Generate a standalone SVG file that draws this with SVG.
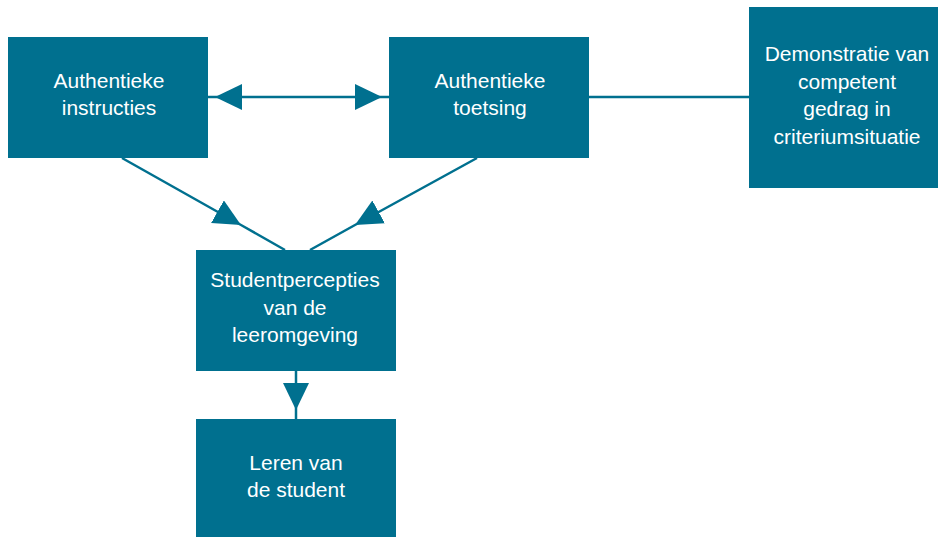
<svg xmlns="http://www.w3.org/2000/svg" width="938" height="537" viewBox="0 0 938 537">
  <defs>
    <style>
      .box { fill: #00708F; }
      .lbl { fill: #FFFFFF; font-family: "Liberation Sans", Arial, sans-serif; font-size: 21px; text-anchor: middle; }
      .con { stroke: #00708F; stroke-width: 2.5; fill: none; }
    </style>
    <marker id="endArrow" markerUnits="userSpaceOnUse" markerWidth="40" markerHeight="30" viewBox="0 0 40 30" refX="34" refY="13" orient="auto-start-reverse">
      <path d="M0,0 L27,13 L0,26 Z" fill="#00708F"/>
    </marker>
    <marker id="midArrow" markerUnits="userSpaceOnUse" markerWidth="30" markerHeight="30" viewBox="0 0 30 30" refX="27" refY="13" orient="auto">
      <path d="M0,0 L27,13 L0,26 Z" fill="#00708F"/>
    </marker>
  </defs>
  <rect width="938" height="537" fill="#FFFFFF"/>

  <g id="connectors">
    <line class="con" x1="208" y1="97" x2="389" y2="97" marker-start="url(#endArrow)" marker-end="url(#endArrow)"/>
    <line class="con" x1="589" y1="97" x2="749" y2="97"/>
    <path class="con" d="M122,158 L241,225 L285,250" marker-mid="url(#midArrow)"/>
    <path class="con" d="M477,158 L355,225 L310,250" marker-mid="url(#midArrow)"/>
    <path class="con" d="M296,371 L296,410 L296,419" marker-mid="url(#midArrow)"/>
  </g>

  <g id="node-instructies">
    <rect class="box" x="8" y="37" width="200" height="121"/>
    <text class="lbl" x="109" y="88">Authentieke</text>
    <text class="lbl" x="109" y="115">instructies</text>
  </g>

  <g id="node-toetsing">
    <rect class="box" x="389" y="37" width="200" height="121"/>
    <text class="lbl" x="490" y="88">Authentieke</text>
    <text class="lbl" x="490" y="115">toetsing</text>
  </g>

  <g id="node-demonstratie">
    <rect class="box" x="749" y="7" width="189" height="181"/>
    <text class="lbl" x="847" y="61">Demonstratie van</text>
    <text class="lbl" x="847" y="88.5">competent</text>
    <text class="lbl" x="847" y="116">gedrag in</text>
    <text class="lbl" x="847" y="143.5">criteriumsituatie</text>
  </g>

  <g id="node-studentpercepties">
    <rect class="box" x="196" y="250" width="200" height="121"/>
    <text class="lbl" x="295" y="287">Studentpercepties</text>
    <text class="lbl" x="295" y="314.5">van de</text>
    <text class="lbl" x="295" y="342">leeromgeving</text>
  </g>

  <g id="node-leren">
    <rect class="box" x="196" y="419" width="200" height="118"/>
    <text class="lbl" x="296" y="470">Leren van</text>
    <text class="lbl" x="296" y="497">de student</text>
  </g>
</svg>
